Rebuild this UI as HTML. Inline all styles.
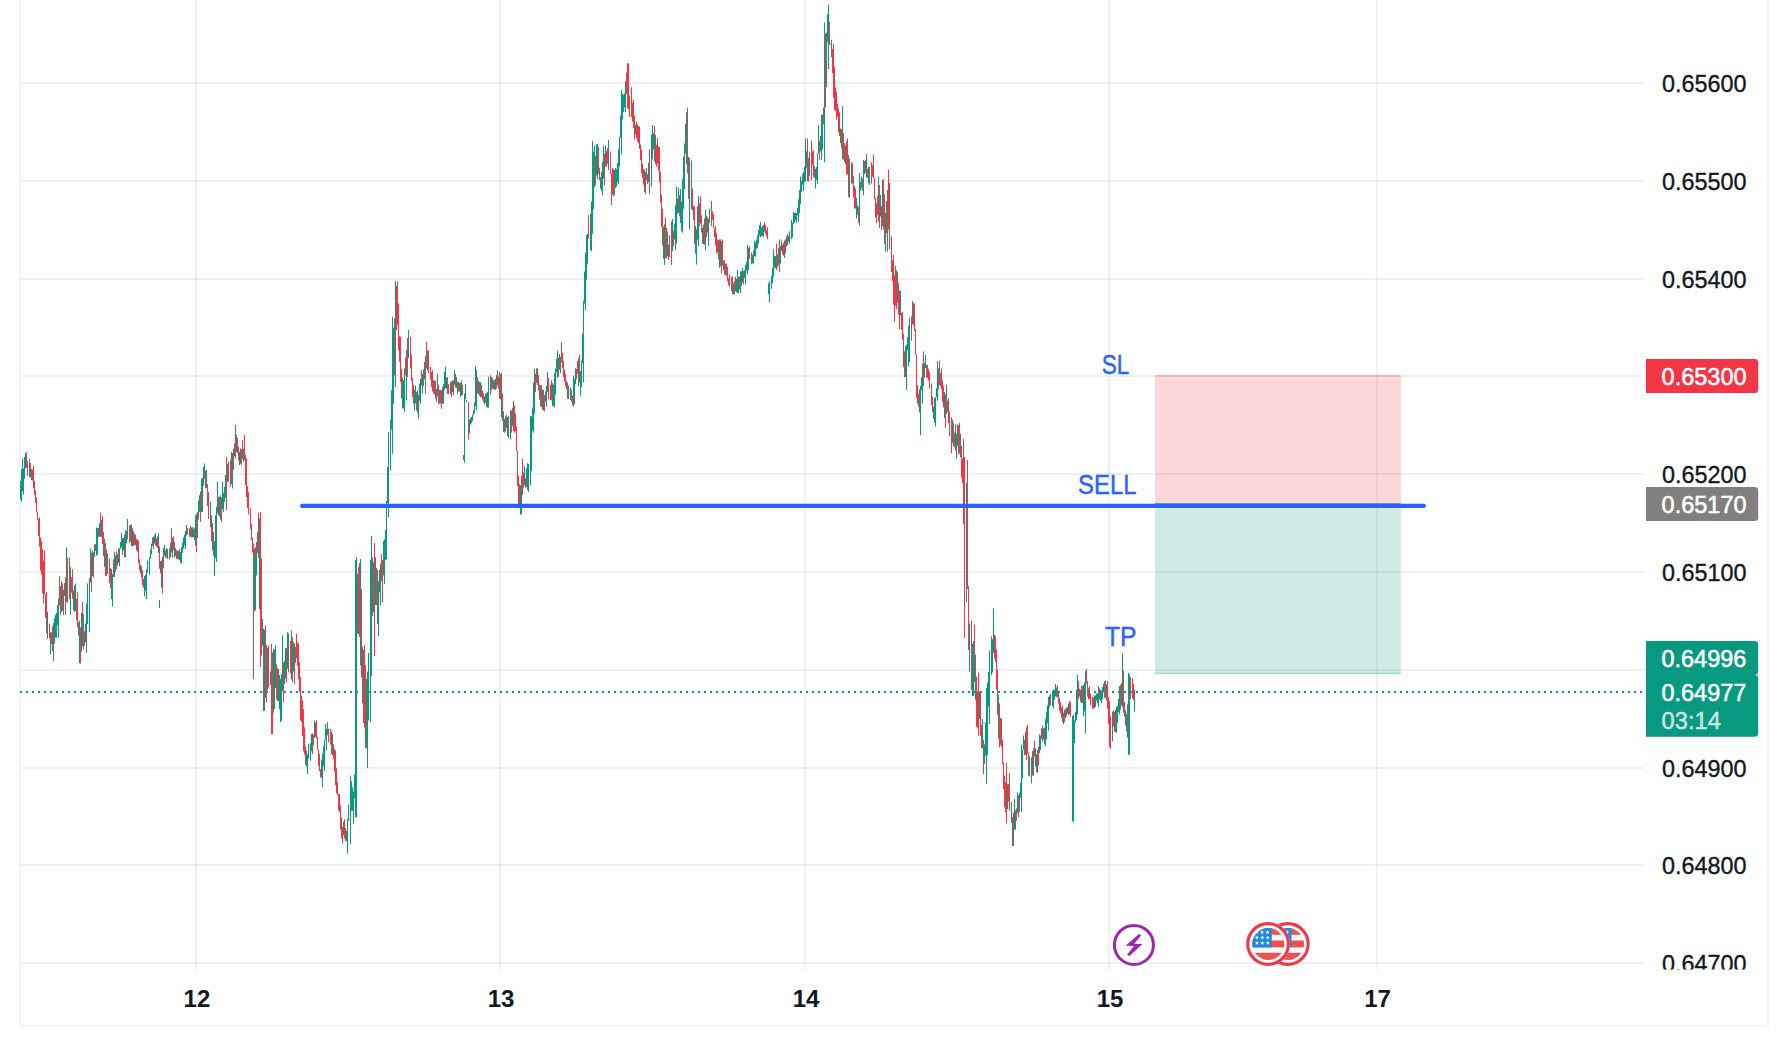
<!DOCTYPE html>
<html><head><meta charset="utf-8"><title>chart</title>
<style>
html,body{margin:0;padding:0;background:#fff;}
body{width:1788px;height:1047px;overflow:hidden;font-family:"Liberation Sans",sans-serif;}
svg{display:block;position:absolute;left:0;top:0;}
text{font-family:"Liberation Sans",sans-serif;}
</style></head><body>
<svg width="1788" height="1047" viewBox="0 0 1788 1047">
<rect width="1788" height="1047" fill="#ffffff"/>

<g stroke="#000000" stroke-opacity="0.058" stroke-width="2" fill="none">
<path d="M20 83H1644"/>
<path d="M20 181H1644"/>
<path d="M20 279H1644"/>
<path d="M20 376H1644"/>
<path d="M20 474H1644"/>
<path d="M20 572H1644"/>
<path d="M20 670H1644"/>
<path d="M20 768H1644"/>
<path d="M20 865H1644"/>
<path d="M20 963H1644"/>
<path d="M195.85 0V969.5"/>
<path d="M499.85 0V969.5"/>
<path d="M804.85 0V969.5"/>
<path d="M1109.0 0V969.5"/>
<path d="M1376.85 0V969.5"/>
</g>
<g stroke="#f4f4f4" stroke-width="2" fill="none">
<path d="M20 0V1026"/>
<path d="M19 1026H1769"/>
<path d="M1768 0V1026"/>
</g>
<rect x="1155" y="375.3" width="245.8" height="128.7" fill="#f23645" fill-opacity="0.2"/>
<rect x="1155" y="375.2" width="245.8" height="1.3" fill="#f23645" fill-opacity="0.28"/>
<rect x="1155" y="504" width="245.8" height="170" fill="#089981" fill-opacity="0.2"/>
<rect x="1155" y="672.8" width="245.8" height="1.3" fill="#089981" fill-opacity="0.22"/>
<g fill="none" stroke-width="1">
<path stroke="#f23645" d="M26.50 452.1V468.1M27.50 461.2V475.9M30.50 463.0V477.5M32.50 469.4V480.6M33.50 465.9V488.1M34.50 481.0V494.8M35.50 490.1V503.1M36.50 497.4V512.3M37.50 511.6V520.0M38.50 518.8V536.2M39.50 517.4V546.8M40.50 537.4V570.7M41.50 541.1V574.4M42.50 549.0V593.4M43.50 560.5V603.4M44.50 550.4V594.6M45.50 594.6V617.9M46.50 592.0V633.5M49.50 623.5V638.3M51.50 632.3V644.0M53.50 623.0V660.8M59.50 576.2V605.5M60.50 586.1V614.9M62.50 583.4V610.8M65.50 577.6V614.9M67.50 557.6V602.7M69.50 557.6V599.3M71.50 577.3V592.7M72.50 569.0V598.7M73.50 590.5V610.6M76.50 598.9V620.3M77.50 592.0V627.3M78.50 622.3V635.7M80.50 627.3V663.6M82.50 602.0V646.6M84.50 631.2V645.8M91.50 552.5V592.0M93.50 552.4V577.6M95.50 543.8V551.1M98.50 527.8V536.9M100.50 512.6V536.6M102.50 516.0V544.2M103.50 532.0V556.1M105.50 543.2V575.8M106.50 549.6V576.2M109.50 558.3V582.9M110.50 568.0V588.5M113.50 559.3V577.0M116.50 551.4V569.0M118.50 548.5V563.0M124.50 534.6V557.2M129.50 525.5V543.2M130.50 524.8V541.4M133.50 531.1V545.8M134.50 533.6V545.1M135.50 534.6V545.4M136.50 538.9V550.3M138.50 540.4V562.9M139.50 559.2V570.3M141.50 566.2V578.0M142.50 570.0V585.0M143.50 578.8V587.9M153.50 536.7V549.0M156.50 538.2V546.5M157.50 536.0V547.9M159.50 546.4V568.7M160.50 561.1V573.3M162.50 556.6V593.4M165.50 550.4V558.2M169.50 548.2V559.0M171.50 528.3V552.4M173.50 536.5V550.5M174.50 542.1V557.4M176.50 549.6V558.9M177.50 551.0V559.0M187.50 528.1V534.6M189.50 528.3V537.2M191.50 527.5V537.7M193.50 528.8V537.0M196.50 514.1V552.0M200.50 491.4V522.0M205.50 470.3V488.3M207.50 484.2V506.2M208.50 491.9V519.0M211.50 515.3V541.0M212.50 522.9V550.7M219.50 496.8V516.6M221.50 497.5V522.0M226.50 456.8V510.3M228.50 461.8V481.6M230.50 459.9V486.9M233.50 448.6V470.0M235.50 425.0V458.4M237.50 437.7V453.3M238.50 446.8V460.5M241.50 449.1V465.1M242.50 440.1V458.9M244.50 435.1V460.0M245.50 454.9V485.1M246.50 458.4V497.4M247.50 486.1V507.9M248.50 491.9V514.4M250.50 508.2V529.2M251.50 524.3V539.8M252.50 537.6V552.6M253.50 543.4V563.7M254.50 548.7V595.1M257.50 532.1V553.2M258.50 512.6V558.1M260.50 511.9V595.3M261.50 558.4V655.6M265.50 625.6V698.0M266.50 645.1V702.4M268.50 645.6V687.6M271.50 643.9V719.0M272.50 652.3V734.2M276.50 664.4V699.1M277.50 667.8V701.2M280.50 679.0V712.0M283.50 662.5V702.4M286.50 648.2V682.4M290.50 641.0V673.3M291.50 630.6V679.4M294.50 643.6V684.1M296.50 633.9V658.1M297.50 642.3V665.7M298.50 643.7V679.2M299.50 662.3V692.1M300.50 677.1V720.5M301.50 695.7V722.2M302.50 700.5V735.8M303.50 709.1V751.4M304.50 727.2V754.6M305.50 746.5V765.0M312.50 733.3V754.0M315.50 722.5V737.2M316.50 720.5V738.5M317.50 737.4V749.6M318.50 749.3V766.2M319.50 754.0V771.3M320.50 769.3V777.4M328.50 728.6V742.3M330.50 728.9V744.6M331.50 731.5V754.0M333.50 744.5V759.0M334.50 748.9V771.3M335.50 750.6V785.2M336.50 768.2V793.0M337.50 781.9V794.9M338.50 794.0V810.1M339.50 794.1V812.0M340.50 805.2V829.3M341.50 817.5V838.2M342.50 827.0V843.5M344.50 819.1V838.3M345.50 828.0V840.9M358.50 567.1V634.0M359.50 563.1V637.0M361.50 589.0V677.4M363.50 649.5V722.9M364.50 645.0V727.5M365.50 665.3V748.3M372.50 557.8V616.0M374.50 543.0V656.0M376.50 567.9V605.1M381.50 554.0V581.3M382.50 560.1V602.0M394.50 318.5V375.4M396.50 285.9V330.2M397.50 281.5V324.6M398.50 303.3V350.2M399.50 336.3V361.6M400.50 336.8V381.9M401.50 368.9V398.6M405.50 357.5V375.3M407.50 338.0V377.0M410.50 336.8V368.6M411.50 354.9V380.8M412.50 377.7V397.0M413.50 384.6V403.8M416.50 391.9V410.4M421.50 370.3V385.4M425.50 356.2V393.7M426.50 341.9V368.7M428.50 350.2V373.3M430.50 366.9V379.8M431.50 371.9V387.0M432.50 370.3V391.4M433.50 380.1V393.7M435.50 380.6V398.9M436.50 389.0V402.0M438.50 384.8V404.3M440.50 390.0V403.7M441.50 390.1V408.7M447.50 377.0V394.1M448.50 384.2V394.2M451.50 381.5V397.0M453.50 380.6V395.3M455.50 373.9V387.7M458.50 381.9V391.5M459.50 382.7V391.6M462.50 384.9V395.3M477.50 377.0V393.8M479.50 381.8V395.9M481.50 384.8V397.0M482.50 390.6V399.5M483.50 393.1V402.3M484.50 396.3V404.3M490.50 375.3V394.6M492.50 378.3V388.6M496.50 375.1V388.6M498.50 376.8V388.6M499.50 371.9V398.8M500.50 374.0V399.3M502.50 393.6V420.8M504.50 418.8V432.7M507.50 417.0V436.3M511.50 410.5V432.7M513.50 401.0V430.9M514.50 405.5V432.7M515.50 413.7V431.1M516.50 426.8V451.1M517.50 450.5V486.2M518.50 475.5V506.7M519.50 484.1V508.4M522.50 458.5V494.8M523.50 472.5V487.6M525.50 478.3V487.6M535.50 373.7V392.2M536.50 368.3V383.1M538.50 375.0V390.3M539.50 385.0V399.7M540.50 385.3V406.5M542.50 389.7V410.0M544.50 395.1V411.3M548.50 377.9V399.3M550.50 384.7V399.9M551.50 380.2V400.6M558.50 357.6V376.7M561.50 342.1V362.3M562.50 352.9V368.3M563.50 361.1V376.8M564.50 369.6V381.0M565.50 374.3V386.1M566.50 380.8V389.2M567.50 382.6V398.9M571.50 390.2V401.7M572.50 395.8V405.4M576.50 369.0V379.2M577.50 361.1V373.8M579.50 355.2V382.7M588.50 215.2V238.8M595.50 156.0V185.4M598.50 146.6V174.2M599.50 167.8V180.2M604.50 153.8V185.4M606.50 151.1V166.7M607.50 148.1V163.7M610.50 151.5V174.2M611.50 173.7V205.2M612.50 168.0V194.3M613.50 169.2V196.5M626.50 72.5V93.8M627.50 62.9V108.4M628.50 63.7V109.5M629.50 95.4V117.1M631.50 87.3V117.1M632.50 103.0V121.5M633.50 99.7V128.1M634.50 115.4V139.4M636.50 122.0V137.6M637.50 124.3V141.4M638.50 125.8V143.3M639.50 127.0V148.9M640.50 144.6V160.2M641.50 149.4V173.2M642.50 163.6V178.0M643.50 169.2V184.7M645.50 172.1V194.1M647.50 174.2V183.9M649.50 149.4V193.6M654.50 125.8V161.6M656.50 145.0V166.7M657.50 138.2V163.8M658.50 146.5V170.5M659.50 146.9V182.3M660.50 171.7V202.5M661.50 194.8V227.2M662.50 209.0V245.6M665.50 217.7V257.9M666.50 227.8V258.6M668.50 244.5V259.9M671.50 221.4V264.9M673.50 230.8V246.2M679.50 195.2V216.2M687.50 107.6V173.4M688.50 156.8V198.9M692.50 188.7V210.3M693.50 205.9V219.9M694.50 206.5V243.7M699.50 203.1V226.2M700.50 196.5V223.4M701.50 215.2V232.4M702.50 227.6V243.7M704.50 218.5V244.7M706.50 215.7V237.3M711.50 200.9V226.2M712.50 211.1V219.6M713.50 214.1V228.3M714.50 228.3V237.2M715.50 226.2V245.5M716.50 232.9V253.6M717.50 239.4V252.4M718.50 240.3V259.2M721.50 241.1V273.4M722.50 239.4V265.6M723.50 260.9V270.1M725.50 263.6V275.6M726.50 263.5V275.6M727.50 266.8V281.2M728.50 278.3V285.1M729.50 274.5V287.1M731.50 276.7V291.1M732.50 276.7V294.3M735.50 276.7V291.4M739.50 276.7V289.5M743.50 270.9V284.4M749.50 245.9V258.8M751.50 252.5V264.2M764.50 221.8V231.6M765.50 224.9V233.5M766.50 230.2V236.2M767.50 227.3V239.3M776.50 243.7V270.1M779.50 239.4V271.9M782.50 244.7V254.5M783.50 242.6V255.8M785.50 239.2V253.6M787.50 234.2V245.2M807.50 138.4V181.3M808.50 157.6V181.4M811.50 140.8V180.2M812.50 151.4V164.7M813.50 150.4V176.7M814.50 165.7V178.0M819.50 141.2V159.9M823.50 107.4V124.3M825.50 33.6V107.4M829.50 21.7V45.1M831.50 39.9V57.2M832.50 49.1V73.1M833.50 44.2V97.5M834.50 66.7V109.8M835.50 87.5V111.0M836.50 91.9V119.3M837.50 103.7V116.9M838.50 108.6V132.4M839.50 112.2V136.0M841.50 128.9V148.3M843.50 132.9V159.9M844.50 143.2V162.1M846.50 140.8V174.2M847.50 138.4V174.6M849.50 158.8V198.1M852.50 163.5V183.8M853.50 176.2V197.5M854.50 186.0V208.5M855.50 188.5V208.6M858.50 207.0V222.7M862.50 178.5V190.9M865.50 159.9V172.9M867.50 169.1V177.6M871.50 162.3V183.8M872.50 165.2V176.6M873.50 154.7V177.9M874.50 177.9V199.3M875.50 198.1V217.5M876.50 203.2V223.2M877.50 195.7V214.8M879.50 185.0V227.9M881.50 206.2V230.3M883.50 179.0V229.1M884.50 194.4V243.9M886.50 200.9V233.4M888.50 169.5V229.5M889.50 183.0V249.1M891.50 236.3V272.1M892.50 260.5V281.1M893.50 254.6V304.5M894.50 275.3V321.9M895.50 266.1V305.7M896.50 270.3V309.1M898.50 283.0V315.2M899.50 291.0V329.1M901.50 312.9V329.7M902.50 311.9V339.2M903.50 333.9V367.2M904.50 351.4V377.2M911.50 316.3V340.6M913.50 303.4V325.5M914.50 303.3V330.9M915.50 329.1V354.8M916.50 354.8V397.9M917.50 385.4V403.5M919.50 389.3V412.6M923.50 351.5V386.4M926.50 365.0V377.8M927.50 364.9V377.8M928.50 368.8V380.2M929.50 372.1V388.7M931.50 383.6V404.9M932.50 396.5V412.2M939.50 360.6V385.0M940.50 372.9V386.6M941.50 368.6V389.3M942.50 380.7V401.9M943.50 386.4V407.4M945.50 394.5V428.0M947.50 400.6V412.2M948.50 397.9V423.3M949.50 411.5V436.3M951.50 417.2V453.0M953.50 422.9V446.2M954.50 432.7V447.3M958.50 425.4V454.4M959.50 422.9V453.4M961.50 445.8V477.7M962.50 458.7V483.1M963.50 438.7V524.2M971.50 621.0V689.9M974.50 624.8V681.9M976.50 676.8V726.7M977.50 691.3V728.2M978.50 672.5V735.7M980.50 692.4V736.0M981.50 725.0V748.4M983.50 739.8V774.0M993.50 608.6V653.0M994.50 634.5V658.6M995.50 636.4V661.9M996.50 649.3V689.7M997.50 669.8V714.9M999.50 703.5V747.3M1000.50 717.9V744.8M1001.50 719.0V746.9M1002.50 739.6V764.0M1003.50 762.8V789.0M1004.50 775.6V807.2M1005.50 782.2V812.3M1006.50 762.8V823.4M1008.50 784.1V801.5M1009.50 773.1V810.4M1011.50 801.9V822.8M1012.50 817.0V837.0M1013.50 812.8V845.9M1016.50 808.4V820.8M1018.50 795.3V817.0M1024.50 739.6V755.1M1026.50 727.3V760.2M1027.50 724.9V753.5M1028.50 752.5V775.5M1033.50 748.5V775.7M1034.50 740.9V756.7M1036.50 754.0V772.1M1038.50 746.9V765.4M1041.50 728.3V738.7M1042.50 725.4V742.2M1050.50 693.8V704.9M1056.50 687.3V696.8M1058.50 692.8V703.5M1059.50 698.2V710.6M1060.50 702.2V713.1M1061.50 707.8V717.6M1062.50 705.9V722.2M1064.50 709.6V722.2M1066.50 707.6V716.4M1069.50 701.1V714.6M1070.50 702.1V716.7M1078.50 681.1V699.2M1079.50 688.7V696.5M1080.50 689.7V701.7M1082.50 685.9V703.0M1086.50 669.0V683.6M1087.50 681.1V696.5M1088.50 688.2V699.2M1089.50 685.9V698.8M1090.50 693.5V705.4M1092.50 697.3V708.4M1093.50 697.3V708.8M1099.50 688.5V699.1M1104.50 681.1V698.3M1106.50 684.7V700.3M1107.50 681.1V708.9M1108.50 697.3V723.8M1109.50 701.1V747.2M1110.50 716.4V748.9M1113.50 710.7V726.8M1115.50 709.7V732.4M1121.50 683.0V705.0M1123.50 670.6V712.7M1124.50 701.8V716.4M1126.50 713.8V731.3M1130.50 677.3V699.2M1132.50 678.2V698.1M1133.50 684.0V700.2M253.50 547.0V679.0M260.50 512.0V667.0M263.50 640.0V711.0M271.50 665.0V734.0M463.50 455.0V460.0M468.50 402.0V439.8M520.50 486.0V514.5M964.50 457.0V638.0M967.50 460.0V589.0M968.50 586.0V650.0"/>
<path stroke="#089981" d="M20.50 480.9V499.7M21.50 469.2V501.7M22.50 458.4V491.4M23.50 468.5V494.5M24.50 456.9V478.8M25.50 453.3V468.1M29.50 458.8V477.2M31.50 469.3V480.2M47.50 611.7V639.1M50.50 632.3V654.0M52.50 626.4V651.0M54.50 618.3V643.5M55.50 614.9V637.7M56.50 612.8V637.8M57.50 604.9V625.3M58.50 598.5V637.8M61.50 581.5V612.0M63.50 589.7V614.9M64.50 583.0V596.1M66.50 547.5V601.9M70.50 567.3V614.9M74.50 585.5V611.7M75.50 583.4V611.1M79.50 620.6V663.3M81.50 612.7V651.6M83.50 614.1V649.3M85.50 623.5V642.3M86.50 603.5V652.7M87.50 583.4V624.0M89.50 578.1V632.1M90.50 548.4V582.3M92.50 550.4V576.1M94.50 544.5V557.0M96.50 527.5V555.6M97.50 527.8V554.7M99.50 523.3V536.9M101.50 520.0V537.5M104.50 538.7V566.8M107.50 553.3V574.0M111.50 569.0V599.3M112.50 574.1V606.3M114.50 551.8V577.0M115.50 555.6V571.9M117.50 554.3V565.6M119.50 548.3V566.2M120.50 541.8V548.9M121.50 533.2V547.1M122.50 538.1V554.7M123.50 537.8V550.4M125.50 530.1V557.6M126.50 531.3V543.4M127.50 518.9V539.4M131.50 524.6V546.1M132.50 528.3V546.1M137.50 539.6V551.9M140.50 564.6V573.6M144.50 576.0V596.5M145.50 574.4V590.7M146.50 569.4V599.1M147.50 560.4V572.4M149.50 557.1V574.8M150.50 549.6V558.7M151.50 543.5V554.1M152.50 537.5V546.0M154.50 535.2V543.5M155.50 533.2V545.7M158.50 533.2V553.0M161.50 560.4V587.5M163.50 548.0V567.9M164.50 544.7V555.6M166.50 548.4V557.4M167.50 549.0V558.8M170.50 542.8V557.2M172.50 537.8V557.6M175.50 548.2V555.9M178.50 550.9V559.4M179.50 549.1V560.1M180.50 551.8V563.0M181.50 547.3V563.3M182.50 542.8V552.8M183.50 537.6V548.5M184.50 534.6V545.3M185.50 531.0V549.0M186.50 524.7V535.5M190.50 525.7V536.4M192.50 527.1V537.5M194.50 527.5V539.9M195.50 515.3V545.6M197.50 511.7V538.2M198.50 500.6V519.7M199.50 495.2V512.2M201.50 478.5V512.1M202.50 478.0V511.9M203.50 467.0V485.8M204.50 463.5V479.1M206.50 470.1V487.9M210.50 501.8V527.2M213.50 532.0V555.6M214.50 541.3V576.1M215.50 515.3V558.2M216.50 506.9V562.1M217.50 481.8V513.3M218.50 496.8V515.3M220.50 495.2V519.7M222.50 481.8V509.2M223.50 492.7V511.9M224.50 487.0V502.1M225.50 475.1V497.8M227.50 464.0V481.8M231.50 451.8V484.1M232.50 453.1V488.5M234.50 443.4V456.3M236.50 434.6V451.9M239.50 451.7V465.1M240.50 448.4V463.8M243.50 448.7V461.8M255.50 547.0V610.5M256.50 542.0V575.4M259.50 518.3V609.1M262.50 618.9V645.7M263.50 628.9V700.8M264.50 629.6V710.8M267.50 647.7V690.0M270.50 671.5V685.1M273.50 649.0V712.6M274.50 649.8V709.1M275.50 645.6V688.0M278.50 669.0V701.3M279.50 675.1V709.1M281.50 674.0V720.8M282.50 635.6V691.3M284.50 660.8V684.2M285.50 648.2V678.6M287.50 632.2V668.6M288.50 633.5V672.4M292.50 637.3V682.4M293.50 642.3V671.6M295.50 646.9V662.8M306.50 750.6V766.6M307.50 754.3V774.0M308.50 743.9V758.8M310.50 743.3V760.6M311.50 733.9V751.3M313.50 734.9V745.2M314.50 720.5V737.6M321.50 759.6V777.9M322.50 753.6V787.4M323.50 746.2V766.2M324.50 739.6V770.7M325.50 723.9V739.6M326.50 728.7V750.6M327.50 722.2V735.3M332.50 734.1V755.1M343.50 821.5V835.2M346.50 830.8V840.9M347.50 818.7V853.6M348.50 804.5V820.8M350.50 775.7V844.2M351.50 781.4V810.8M352.50 787.4V810.7M353.50 791.4V824.1M354.50 774.5V798.6M355.50 560.0V817.5M356.50 557.0V817.0M357.50 573.9V633.6M360.50 559.0V665.4M362.50 646.6V703.5M366.50 679.0V748.3M367.50 671.6V768.0M368.50 653.0V720.5M370.50 560.0V722.0M371.50 536.0V676.0M373.50 562.3V612.4M375.50 557.3V605.0M377.50 570.0V624.0M378.50 581.4V636.0M379.50 570.0V592.4M380.50 563.5V605.0M383.50 541.0V575.5M384.50 539.3V584.0M385.50 530.0V560.3M386.50 501.1V559.0M387.50 467.1V503.2M388.50 432.1V517.3M390.50 419.6V470.5M391.50 390.3V429.7M392.50 316.8V453.8M393.50 327.8V403.7M395.50 280.7V387.0M402.50 377.7V408.2M403.50 380.2V408.7M404.50 368.3V412.0M406.50 350.2V400.3M408.50 330.2V358.2M414.50 389.7V410.4M415.50 385.3V403.4M417.50 390.3V412.6M418.50 394.9V418.7M419.50 383.6V400.8M420.50 378.8V403.7M422.50 374.1V393.7M423.50 369.6V386.1M424.50 361.9V379.5M427.50 350.7V370.3M434.50 380.6V394.4M437.50 373.6V396.3M439.50 390.0V403.5M442.50 387.0V403.7M443.50 384.2V403.7M444.50 371.7V389.8M445.50 366.9V388.4M446.50 377.7V388.5M450.50 382.0V394.2M452.50 380.3V392.0M454.50 370.3V384.9M456.50 376.9V387.8M457.50 381.9V393.7M460.50 383.1V397.0M461.50 380.3V395.2M476.50 370.1V410.4M478.50 380.8V393.7M480.50 382.0V397.3M485.50 393.7V402.8M486.50 393.4V406.6M487.50 391.9V407.7M488.50 376.7V407.7M491.50 377.0V390.3M493.50 380.2V388.9M494.50 380.3V389.8M495.50 378.9V389.6M497.50 370.2V385.4M501.50 373.1V417.7M503.50 411.3V432.1M505.50 416.3V431.2M506.50 414.8V428.2M508.50 416.0V437.8M510.50 410.1V439.4M512.50 407.7V426.2M520.50 485.3V513.9M521.50 475.7V514.6M524.50 466.2V485.1M526.50 468.5V486.9M527.50 463.3V490.0M528.50 463.8V491.9M530.50 416.0V485.3M531.50 416.3V470.9M532.50 407.3V430.6M533.50 382.6V432.7M534.50 368.8V413.7M537.50 368.3V385.0M541.50 385.0V407.2M543.50 389.8V410.6M545.50 391.4V401.4M546.50 385.9V406.5M547.50 371.9V392.1M552.50 383.0V406.5M553.50 385.0V405.7M554.50 373.1V407.7M555.50 368.6V394.6M556.50 358.8V372.4M557.50 350.4V377.9M559.50 354.0V369.5M560.50 356.7V373.1M568.50 385.5V399.3M570.50 387.4V400.1M573.50 375.5V406.5M574.50 378.8V404.1M575.50 368.3V384.0M578.50 358.2V386.4M580.50 371.1V395.8M581.50 360.4V387.4M582.50 333.4V363.1M583.50 300.8V382.6M584.50 271.5V303.6M585.50 253.0V310.1M586.50 235.0V279.8M587.50 233.8V263.6M590.50 213.9V250.0M591.50 201.5V251.2M592.50 140.7V233.8M593.50 151.6V209.0M594.50 145.6V187.5M596.50 144.4V175.5M597.50 143.9V179.2M600.50 177.2V188.6M601.50 171.7V191.1M602.50 162.1V195.3M603.50 145.6V178.5M605.50 145.6V166.6M608.50 139.9V170.4M614.50 169.9V195.3M615.50 168.0V187.8M616.50 169.1V186.6M617.50 163.0V182.0M618.50 149.4V184.1M619.50 136.6V166.7M620.50 115.8V137.5M621.50 89.7V154.3M622.50 93.5V119.5M623.50 95.0V112.1M624.50 93.5V107.6M625.50 81.1V112.1M635.50 125.1V134.5M644.50 169.2V192.0M646.50 168.0V180.4M648.50 162.7V182.2M651.50 134.5V186.6M652.50 125.0V159.3M653.50 133.1V149.4M655.50 135.0V164.3M663.50 226.7V258.7M664.50 224.3V264.9M667.50 231.3V256.3M669.50 235.3V257.2M672.50 218.9V251.2M674.50 223.9V239.4M675.50 205.2V250.0M676.50 186.6V243.7M677.50 198.8V213.9M678.50 187.9V212.7M680.50 189.1V222.9M681.50 201.5V230.9M682.50 179.2V232.6M683.50 156.8V209.0M684.50 143.6V189.1M685.50 123.7V153.3M686.50 112.1V164.3M689.50 158.0V229.5M691.50 160.3V209.0M695.50 226.2V253.8M696.50 229.3V264.6M697.50 206.4V239.6M698.50 196.1V245.9M703.50 224.6V244.0M705.50 209.7V250.3M707.50 217.4V232.6M708.50 219.1V245.9M709.50 208.6V222.8M719.50 239.4V267.7M720.50 239.4V266.2M724.50 260.2V274.3M733.50 283.3V294.3M734.50 281.0V294.3M736.50 279.0V292.1M737.50 270.1V292.9M738.50 276.7V293.2M740.50 271.2V293.2M741.50 271.4V285.5M742.50 267.9V282.4M744.50 270.2V278.0M745.50 264.9V284.4M746.50 262.1V270.6M747.50 244.8V274.5M748.50 247.7V270.1M752.50 254.7V263.5M753.50 250.3V263.5M754.50 240.5V255.9M755.50 242.3V256.9M756.50 239.6V248.8M757.50 235.0V248.1M758.50 230.2V243.7M759.50 225.1V235.6M760.50 221.8V237.2M761.50 227.4V236.1M762.50 226.2V235.7M763.50 224.9V237.2M768.50 283.3V294.3M769.50 280.9V302.6M771.50 275.6V288.8M772.50 267.9V283.3M773.50 249.2V276.7M774.50 256.3V267.9M775.50 255.8V267.9M777.50 254.4V267.3M778.50 248.1V264.9M780.50 246.1V263.5M781.50 240.5V250.9M784.50 240.5V258.0M786.50 236.4V246.7M788.50 235.7V241.7M789.50 231.3V243.7M791.50 219.6V239.3M792.50 222.7V237.6M793.50 211.9V223.7M794.50 212.8V222.9M795.50 213.0V220.6M796.50 213.1V222.9M797.50 207.7V215.4M798.50 199.3V221.8M799.50 189.8V213.0M800.50 176.6V204.2M801.50 180.8V192.1M802.50 174.2V184.5M803.50 172.2V191.0M804.50 166.9V182.2M805.50 138.4V181.4M806.50 151.1V168.3M809.50 151.7V175.9M815.50 168.7V188.5M816.50 167.1V180.1M817.50 153.0V183.8M818.50 125.3V153.0M820.50 136.0V151.2M821.50 114.6V159.9M822.50 114.4V149.2M824.50 22.7V162.3M826.50 32.5V87.1M827.50 14.3V41.8M828.50 4.8V69.2M840.50 128.5V143.2M842.50 106.2V159.2M845.50 145.6V164.2M848.50 155.1V196.8M851.50 162.3V183.5M856.50 197.9V218.4M857.50 205.3V214.6M859.50 173.0V225.5M860.50 181.6V190.9M861.50 176.6V188.4M863.50 159.9V195.2M864.50 161.2V174.2M866.50 153.9V177.8M868.50 167.1V183.2M869.50 167.0V185.0M878.50 176.6V221.5M880.50 195.0V216.6M882.50 180.2V226.1M885.50 212.6V251.7M887.50 189.9V251.7M897.50 271.8V302.6M900.50 290.4V315.4M905.50 346.3V377.0M906.50 344.6V389.9M907.50 337.2V350.0M908.50 326.2V366.4M909.50 317.7V362.1M912.50 301.0V324.0M918.50 393.7V406.6M920.50 385.8V435.1M921.50 377.4V390.2M922.50 363.5V403.6M924.50 362.8V377.8M925.50 354.9V368.1M933.50 406.8V418.9M934.50 397.9V422.7M935.50 397.1V426.5M936.50 388.4V397.1M937.50 361.2V400.7M938.50 368.3V389.3M944.50 392.1V417.9M946.50 385.0V413.9M952.50 419.8V443.0M955.50 424.4V450.7M956.50 433.9V458.7M957.50 424.4V445.8M960.50 433.7V457.3M969.50 623.5V671.8M972.50 644.0V696.0M973.50 641.0V696.0M975.50 654.5V699.8M979.50 691.4V719.0M982.50 719.0V748.4M984.50 744.4V764.2M985.50 722.4V755.6M986.50 688.0V784.0M987.50 682.4V755.1M988.50 672.0V706.5M989.50 650.6V724.1M991.50 636.4V675.1M992.50 639.3V672.5M998.50 694.5V738.6M1007.50 784.1V809.2M1014.50 798.9V829.1M1015.50 810.3V829.9M1017.50 792.5V813.0M1019.50 792.9V811.8M1020.50 782.8V797.7M1021.50 744.8V811.8M1022.50 749.6V778.3M1023.50 735.5V749.6M1025.50 731.9V754.9M1029.50 756.4V776.4M1031.50 757.5V783.4M1032.50 751.2V775.5M1035.50 748.3V766.4M1037.50 749.9V773.1M1039.50 734.4V753.2M1040.50 735.5V749.9M1043.50 728.3V739.6M1044.50 727.5V744.3M1045.50 719.0V746.0M1046.50 711.6V739.6M1047.50 705.4V723.2M1048.50 697.0V730.6M1049.50 695.5V707.4M1052.50 690.6V706.1M1053.50 689.3V708.6M1054.50 690.0V699.6M1055.50 684.1V696.3M1057.50 685.4V697.4M1063.50 712.6V724.1M1065.50 709.2V717.9M1067.50 707.1V713.9M1068.50 704.1V714.5M1073.50 714.5V821.5M1074.50 720.5V743.2M1075.50 711.6V722.4M1076.50 689.7V720.2M1077.50 675.0V714.5M1081.50 685.9V703.0M1083.50 684.9V716.4M1084.50 683.0V711.6M1085.50 670.6V733.6M1094.50 695.4V707.8M1095.50 695.5V706.9M1096.50 693.5V700.6M1097.50 693.5V703.4M1098.50 686.2V706.9M1100.50 689.7V701.1M1101.50 690.6V703.0M1102.50 687.2V699.2M1103.50 683.8V692.4M1105.50 680.5V697.3M1112.50 711.6V741.3M1114.50 711.7V731.7M1116.50 706.9V732.7M1117.50 705.7V723.1M1118.50 698.7V712.2M1119.50 685.9V714.5M1120.50 684.9V709.7M1122.50 653.8V705.9M1125.50 710.3V725.7M1127.50 704.3V737.7M1128.50 673.4V729.8M1129.50 674.4V754.6M1134.50 689.7V711.6M254.50 555.0V611.0M280.50 680.0V722.0M159.50 600.0V608.0M464.50 393.6V462.7M465.50 384.0V399.0M466.50 400.0V401.8M469.50 419.8V433.5M470.50 418.0V424.6M471.50 417.0V423.0M472.50 414.6V421.0M473.50 410.0V415.0M474.50 402.5V413.5M475.50 366.0V406.0M1072.50 716.0V821.5M1012.50 818.0V846.0M993.50 608.6V652.0M1122.50 653.8V707.0M1128.50 673.0V754.6M966.50 483.0V602.0"/>
</g>
<path d="M20 692H1643" stroke="#089981" stroke-width="2" stroke-dasharray="2 4" fill="none"/>
<path d="M1155 504H1400.8" stroke="#787b86" stroke-width="1.6" fill="none"/>
<path d="M302.2 505.9H1423.8" stroke="#2962ff" stroke-width="4.2" stroke-linecap="round" fill="none"/>
<g fill="#2962ff" stroke="#2962ff" stroke-width="0.45" font-size="27.3px">
<text x="1101.8" y="374" textLength="27.6" lengthAdjust="spacingAndGlyphs">SL</text>
<text x="1078.1" y="493.9" textLength="58.4" lengthAdjust="spacingAndGlyphs">SELL</text>
<text x="1104.9" y="645.6" textLength="31.6" lengthAdjust="spacingAndGlyphs">TP</text>
</g>
<g fill="#131722" stroke="#131722" stroke-width="0.35" font-size="23.4px">
<text x="1661.9" y="91.9" textLength="84.6" lengthAdjust="spacingAndGlyphs">0.65600</text>
<text x="1661.9" y="189.9" textLength="84.6" lengthAdjust="spacingAndGlyphs">0.65500</text>
<text x="1661.9" y="287.9" textLength="84.6" lengthAdjust="spacingAndGlyphs">0.65400</text>
<text x="1661.9" y="482.9" textLength="84.6" lengthAdjust="spacingAndGlyphs">0.65200</text>
<text x="1661.9" y="580.9" textLength="84.6" lengthAdjust="spacingAndGlyphs">0.65100</text>
<text x="1661.9" y="776.9" textLength="84.6" lengthAdjust="spacingAndGlyphs">0.64900</text>
<text x="1661.9" y="873.9" textLength="84.6" lengthAdjust="spacingAndGlyphs">0.64800</text>
</g>
<clipPath id="cp"><rect x="1600" y="900" width="188" height="69.6"/></clipPath>
<g clip-path="url(#cp)"><text x="1661.9" y="971.9" font-size="23.4px" fill="#131722" stroke="#131722" stroke-width="0.35" textLength="84.6" lengthAdjust="spacingAndGlyphs">0.64700</text></g>
<path d="M1646 359.1H1754.7Q1758.2 359.1 1758.2 362.6V389.4Q1758.2 392.9 1754.7 392.9H1646Z" fill="#f23645"/>
<path d="M1646 487.05H1754.7Q1758.2 487.05 1758.2 490.55V517.4Q1758.2 520.9 1754.7 520.9H1646Z" fill="#808080"/>
<path d="M1646 641.0H1754.7Q1758.2 641.0 1758.2 644.5V671.2Q1758.2 674.7 1754.7 674.7H1646Z" fill="#089981"/>
<path d="M1646 674.7H1754.7Q1758.2 674.7 1758.2 678.2V733.3Q1758.2 736.8 1754.7 736.8H1646Z" fill="#089981"/>
<rect x="1646" y="660" width="108" height="30" fill="#089981"/>
<g fill="#ffffff" stroke="#ffffff" stroke-width="0.55" font-size="23.4px">
<text x="1661.6" y="384.9" textLength="85" lengthAdjust="spacingAndGlyphs">0.65300</text>
<text x="1661.6" y="513.0" textLength="85" lengthAdjust="spacingAndGlyphs">0.65170</text>
<text x="1661.6" y="666.8" textLength="84.6" lengthAdjust="spacingAndGlyphs">0.64996</text>
<text x="1661.6" y="700.9" textLength="84.6" lengthAdjust="spacingAndGlyphs">0.64977</text>
<text x="1661.6" y="728.9" textLength="59.2" lengthAdjust="spacingAndGlyphs" fill-opacity="0.72" stroke-opacity="0.72">03:14</text>
</g>
<g fill="#131722" font-size="24px" font-weight="bold" text-anchor="middle">
<text x="196.9" y="1007.2">12</text>
<text x="501.0" y="1007.2">13</text>
<text x="806.0" y="1007.2">14</text>
<text x="1110.0" y="1007.2">15</text>
<text x="1377.5" y="1007.2">17</text>
</g>
<circle cx="1133.95" cy="944.9" r="22.6" fill="#ffffff"/>
<circle cx="1133.95" cy="944.9" r="19.5" fill="#ffffff" stroke="#9c27b0" stroke-width="3"/>
<path d="M1138.9 934L1141.1 935.4L1134.2 943.8L1142.5 943.9L1129.5 955.9L1127.1 954.7L1133.9 946.1L1125.6 945.8Z" fill="#9c27b0"/>
<circle cx="1287.8" cy="944.0" r="21.9" fill="#ffffff"/>
<clipPath id="fc2"><circle cx="1288.0" cy="944.0" r="16.0"/></clipPath>
<g clip-path="url(#fc2)">
<rect x="1270.8" y="927.0" width="34" height="34" fill="#f8f9fd"/>
<rect x="1270.8" y="928.1" width="34" height="6.7" fill="#ef5350"/>
<rect x="1270.8" y="940.5" width="34" height="6.9" fill="#ef5350"/>
<rect x="1270.8" y="952.8" width="34" height="7.4" fill="#ef5350"/>
<rect x="1270.8" y="927.0" width="20.7" height="20.4" fill="#1e88e5"/>
<g fill="#ffffff">
<polygon points="1276.40,930.10 1276.96,931.44 1278.40,931.55 1277.30,932.49 1277.63,933.90 1276.40,933.15 1275.17,933.90 1275.50,932.49 1274.40,931.55 1275.84,931.44"/>
<polygon points="1281.80,930.10 1282.36,931.44 1283.80,931.55 1282.70,932.49 1283.03,933.90 1281.80,933.15 1280.57,933.90 1280.90,932.49 1279.80,931.55 1281.24,931.44"/>
<polygon points="1287.20,930.10 1287.76,931.44 1289.20,931.55 1288.10,932.49 1288.43,933.90 1287.20,933.15 1285.97,933.90 1286.30,932.49 1285.20,931.55 1286.64,931.44"/>
<polygon points="1276.60,935.50 1277.16,936.84 1278.60,936.95 1277.50,937.89 1277.83,939.30 1276.60,938.55 1275.37,939.30 1275.70,937.89 1274.60,936.95 1276.04,936.84"/>
<polygon points="1282.00,935.50 1282.56,936.84 1284.00,936.95 1282.90,937.89 1283.23,939.30 1282.00,938.55 1280.77,939.30 1281.10,937.89 1280.00,936.95 1281.44,936.84"/>
<polygon points="1287.50,935.50 1288.06,936.84 1289.50,936.95 1288.40,937.89 1288.73,939.30 1287.50,938.55 1286.27,939.30 1286.60,937.89 1285.50,936.95 1286.94,936.84"/>
<polygon points="1276.60,940.90 1277.16,942.24 1278.60,942.35 1277.50,943.29 1277.83,944.70 1276.60,943.95 1275.37,944.70 1275.70,943.29 1274.60,942.35 1276.04,942.24"/>
<polygon points="1282.00,940.90 1282.56,942.24 1284.00,942.35 1282.90,943.29 1283.23,944.70 1282.00,943.95 1280.77,944.70 1281.10,943.29 1280.00,942.35 1281.44,942.24"/>
<polygon points="1287.50,940.90 1288.06,942.24 1289.50,942.35 1288.40,943.29 1288.73,944.70 1287.50,943.95 1286.27,944.70 1286.60,943.29 1285.50,942.35 1286.94,942.24"/>
</g></g>
<circle cx="1287.8" cy="944.0" r="20.35" fill="none" stroke="#f23645" stroke-width="3.1"/>
<circle cx="1268.1" cy="944.0" r="21.9" fill="#ffffff"/>
<clipPath id="fc1"><circle cx="1268.3" cy="944.0" r="16.0"/></clipPath>
<g clip-path="url(#fc1)">
<rect x="1251.1" y="927.0" width="34" height="34" fill="#f8f9fd"/>
<rect x="1251.1" y="928.1" width="34" height="6.7" fill="#ef5350"/>
<rect x="1251.1" y="940.5" width="34" height="6.9" fill="#ef5350"/>
<rect x="1251.1" y="952.8" width="34" height="7.4" fill="#ef5350"/>
<rect x="1251.1" y="927.0" width="20.7" height="20.4" fill="#1e88e5"/>
<g fill="#ffffff">
<polygon points="1256.70,930.10 1257.26,931.44 1258.70,931.55 1257.60,932.49 1257.93,933.90 1256.70,933.15 1255.47,933.90 1255.80,932.49 1254.70,931.55 1256.14,931.44"/>
<polygon points="1262.10,930.10 1262.66,931.44 1264.10,931.55 1263.00,932.49 1263.33,933.90 1262.10,933.15 1260.87,933.90 1261.20,932.49 1260.10,931.55 1261.54,931.44"/>
<polygon points="1267.50,930.10 1268.06,931.44 1269.50,931.55 1268.40,932.49 1268.73,933.90 1267.50,933.15 1266.27,933.90 1266.60,932.49 1265.50,931.55 1266.94,931.44"/>
<polygon points="1256.90,935.50 1257.46,936.84 1258.90,936.95 1257.80,937.89 1258.13,939.30 1256.90,938.55 1255.67,939.30 1256.00,937.89 1254.90,936.95 1256.34,936.84"/>
<polygon points="1262.30,935.50 1262.86,936.84 1264.30,936.95 1263.20,937.89 1263.53,939.30 1262.30,938.55 1261.07,939.30 1261.40,937.89 1260.30,936.95 1261.74,936.84"/>
<polygon points="1267.80,935.50 1268.36,936.84 1269.80,936.95 1268.70,937.89 1269.03,939.30 1267.80,938.55 1266.57,939.30 1266.90,937.89 1265.80,936.95 1267.24,936.84"/>
<polygon points="1256.90,940.90 1257.46,942.24 1258.90,942.35 1257.80,943.29 1258.13,944.70 1256.90,943.95 1255.67,944.70 1256.00,943.29 1254.90,942.35 1256.34,942.24"/>
<polygon points="1262.30,940.90 1262.86,942.24 1264.30,942.35 1263.20,943.29 1263.53,944.70 1262.30,943.95 1261.07,944.70 1261.40,943.29 1260.30,942.35 1261.74,942.24"/>
<polygon points="1267.80,940.90 1268.36,942.24 1269.80,942.35 1268.70,943.29 1269.03,944.70 1267.80,943.95 1266.57,944.70 1266.90,943.29 1265.80,942.35 1267.24,942.24"/>
</g></g>
<circle cx="1268.1" cy="944.0" r="20.35" fill="none" stroke="#f23645" stroke-width="3.1"/>
</svg></body></html>
